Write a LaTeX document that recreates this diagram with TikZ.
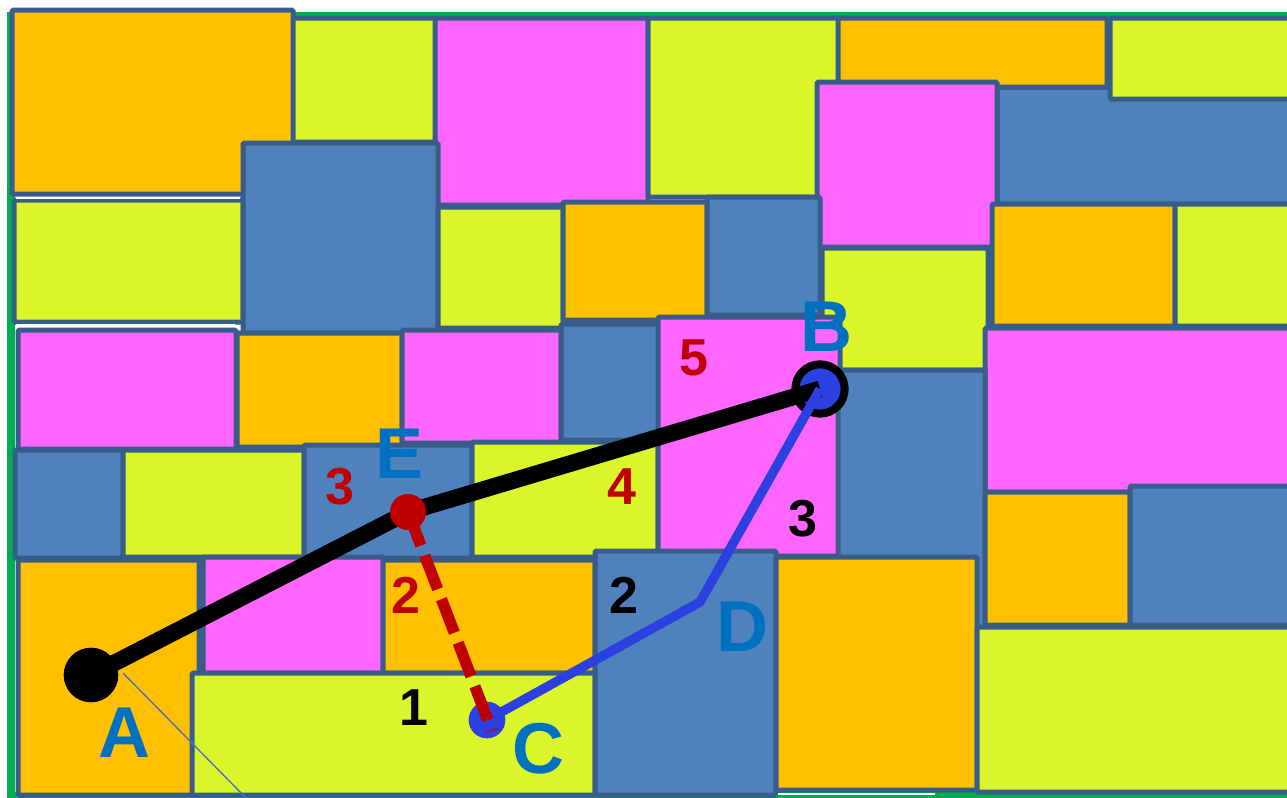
\documentclass[tikz,border=0pt]{standalone}
\usepackage{fontspec}
\setmainfont{Liberation Sans}
\definecolor{cOr}{HTML}{FFC000}
\definecolor{cYe}{HTML}{DAF62B}
\definecolor{cMa}{HTML}{FF66FF}
\definecolor{cBl}{HTML}{4F81BD}
\definecolor{cBd}{HTML}{385D8A}
\definecolor{cGr}{HTML}{00B050}
\definecolor{cPath}{HTML}{2B40E0}
\definecolor{cLab}{HTML}{0070C0}
\definecolor{cRed}{HTML}{C00000}
\definecolor{cThin}{HTML}{4472C4}
\begin{document}
\begin{tikzpicture}[x=0.75pt,y=-0.75pt,
  box/.style={draw=cBd, line width=3.75pt, rounded corners=1pt},
  lab/.style={text=cLab, font=\fontsize{54}{60}\selectfont\bfseries, inner sep=0pt},
  rnum/.style={text=cRed, font=\fontsize{39}{44}\selectfont\bfseries, inner sep=0pt},
  knum/.style={text=black, font=\fontsize{39}{44}\selectfont\bfseries, inner sep=0pt},
  dot/.style={circle, inner sep=0pt},
  gap/.style={draw=white, line width=1.1pt}]
\useasboundingbox (0,0) rectangle (1287,797);
\fill[white] (0,0) rectangle (1287,797);
\clip (0,0) rectangle (1287,797);
% frame
\draw[cGr, line width=6pt] (11,16) rectangle (1300,796);
% row 1
\draw[box, fill=cYe] (290,18) rectangle (436,142);
\draw[box, fill=cOr] (12,10) rectangle (293,194);
\draw[box, fill=cMa] (435,18) rectangle (648,205);
\draw[box, fill=cYe] (648,18) rectangle (842,197);
\draw[box, fill=cBl] (997,87) rectangle (1295,204);
\draw[box, fill=cOr] (838,18) rectangle (1107,87);
\draw[box, fill=cYe] (1110,18) rectangle (1295,99);
\draw[box, fill=cMa] (817,82) rectangle (997,247);
% row 2
\draw[box, fill=cYe] (14,200) rectangle (243,322);
\draw[box, fill=cBl] (243,143) rectangle (438,333);
\draw[box, fill=cYe] (438,207) rectangle (563,328);
\draw[box, fill=cOr] (563,202) rectangle (707,320);
\draw[box, fill=cBl] (707,197) rectangle (820,315);
\draw[box, fill=cYe] (822,248) rectangle (988,370);
\draw[box, fill=cOr] (992,204) rectangle (1175,326);
\draw[box, fill=cYe] (1175,204) rectangle (1295,326);
% row 3
\draw[box, fill=cMa] (18,330) rectangle (236,449);
\draw[box, fill=cOr] (237,333) rectangle (402,447);
\draw[box, fill=cMa] (402,330) rectangle (561,443);
\draw[box, fill=cBl] (561,324) rectangle (660,440);
\draw[box, fill=cMa] (985,328) rectangle (1295,492);
% row 4
\draw[box, fill=cBl] (15,450) rectangle (123,558);
\draw[box, fill=cYe] (123,450) rectangle (304,557);
\draw[box, fill=cBl] (304,445) rectangle (472,558);
\draw[box, fill=cYe] (472,442) rectangle (658,557);
\draw[box, fill=cMa] (658,317) rectangle (840,556);
\draw[box, fill=cBl] (838,370) rectangle (985,632);
\draw[box, fill=cOr] (985,492) rectangle (1130,625);
\draw[box, fill=cBl] (1130,486) rectangle (1295,625);
% row 5
\draw[box, fill=cOr] (18,560) rectangle (199,795);
\draw[box, fill=cMa] (203,557) rectangle (383,673);
\draw[box, fill=cOr] (383,560) rectangle (595,673);
\draw[box, fill=cYe] (192,673) rectangle (595,795);
\draw[box, fill=cBl] (595,551) rectangle (776,795);
\draw[box, fill=cOr] (776,557) rectangle (977,790);
\draw[box, fill=cYe] (977,627) rectangle (1295,792);
% thin white seams
\draw[gap] (16,198) -- (240,198);
\draw[gap] (16,325) -- (235,325);
\draw[gap] (778,794) -- (935,794);
% points
\node[dot, fill=black, minimum size=41pt] (A) at (91,675) {};
\node[dot, fill=cPath, draw=black, line width=6pt, minimum size=37pt] (B) at (820,389) {};
\node[dot, fill=cPath, minimum size=27.5pt] (C) at (487,720) {};
\coordinate (D) at (700,602);
\coordinate (T1) at (123,673);
\coordinate (T2) at (247,799);
\coordinate (Cend) at (492,731);
% connectors
\draw[cThin, line width=1pt] (T1) -- (T2);
\draw[black, line width=12.5pt, line join=round] (A.center) -- (408,512) -- (B.center);
\node[dot, fill=cRed, minimum size=27pt] (E) at (408,512) {};
\draw[cPath, line width=7pt, line join=round] (C.center) -- (D) -- (B.center);
\draw[cRed, line width=8.5pt, dash pattern=on 27pt off 8pt] (E.center) -- (Cend);
% labels
\node[lab] (lA) at (124,733) {A};
\node[lab] (lB) at (826,327) {B};
\node[lab] (lC) at (538,749) {C};
\node[lab] (lD) at (742,627) {D};
\node[lab] (lE) at (400,454) {E};
\node[rnum] (n3r) at (340,487) {3};
\node[rnum] (n2r) at (406,595) {2};
\node[rnum] (n4r) at (622,487) {4};
\node[rnum] (n5r) at (694,358) {5};
\node[knum] (n3k) at (803,519) {3};
\node[knum] (n2k) at (624,595) {2};
\node[knum] (n1k) at (414,708) {1};
\end{tikzpicture}
\end{document}
